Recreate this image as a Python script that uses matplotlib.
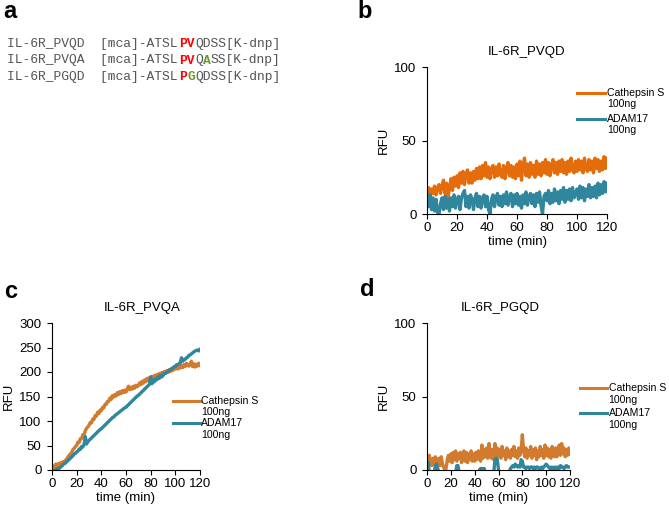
"""
Cleavage of IL-6R derived FRET peptides by Cathepsin S and ADAM17.
"""

import matplotlib

matplotlib.use("Agg")
import matplotlib.pyplot as plt

plt.rcParams["font.family"] = ["Liberation Sans", "DejaVu Sans"]

# time points (min)
time_min = list(range(0, 121))

# panel b: IL-6R_PVQD
pvqd_cathepsin = [
    13, 18, 12, 17, 14, 19, 13, 18, 20, 14,
    19, 23, 14, 21, 11, 18, 24, 16, 25, 19,
    26, 18, 28, 21, 29, 20, 27, 30, 21, 28,
    21, 29, 23, 31, 24, 32, 24, 33, 26, 35,
    25, 32, 24, 31, 33, 25, 32, 26, 34, 27,
    25, 33, 24, 31, 35, 26, 33, 25, 32, 24,
    34, 26, 36, 23, 33, 38, 26, 34, 25, 35,
    27, 33, 25, 36, 27, 34, 26, 35, 28, 37,
    27, 35, 26, 33, 37, 28, 35, 27, 36, 29,
    37, 28, 35, 27, 36, 29, 38, 30, 28, 36,
    29, 37, 30, 36, 28, 38, 31, 29, 37, 30,
    36, 28, 38, 31, 37, 29, 36, 30, 39, 31,
    38,
]
pvqd_adam17 = [
    12, 5, 13, 3, 11, 2, 10, 1, 0, 7,
    11, 3, 12, 4, 10, 2, 11, 5, 13, 4,
    10, 12, 3, 11, 14, 16, 5, 12, 4, 13,
    10, 3, 11, 14, 5, 12, 4, 11, 13, 5,
    12, 3, 0, 10, 13, 5, 11, 14, 6, 12,
    5, 13, 7, 15, 6, 12, 14, 5, 13, 7,
    14, 6, 12, 4, 13, 7, 15, 6, 12, 14,
    7, 13, 5, 14, 8, 15, 6, 0, 12, 14,
    9, 16, 7, 14, 8, 17, 9, 15, 7, 16,
    10, 18, 8, 16, 10, 17, 9, 18, 11, 14,
    17, 10, 19, 11, 18, 9, 17, 12, 20, 11,
    18, 12, 19, 11, 21, 13, 20, 14, 22, 15,
    21,
]

# panel c: IL-6R_PVQA
pvqa_cathepsin = [
    3, 8, 5, 12, 7, 13, 9, 15, 11, 17,
    16, 20, 23, 27, 30, 33, 36, 42, 44, 48,
    50, 57, 56, 64, 64, 72, 72, 80, 85, 88,
    91, 97, 96, 104, 103, 111, 110, 118, 115, 122,
    121, 128, 127, 134, 134, 140, 140, 147, 144, 152,
    149, 154, 151, 158, 154, 160, 156, 162, 158, 163,
    159, 165, 171, 164, 169, 165, 171, 167, 173, 170,
    172, 178, 174, 181, 177, 184, 180, 187, 183, 189,
    186, 191, 187, 193, 189, 195, 191, 197, 193, 199,
    196, 201, 197, 203, 199, 205, 201, 207, 203, 209,
    206, 210, 206, 212, 208, 214, 209, 215, 211, 218,
    215, 212, 216, 222, 211, 217, 210, 216, 212, 218,
    214,
]
pvqa_adam17 = [
    -3, -2, -1, 0, 2, 1, 4, 6, 8, 11,
    13, 14, 18, 19, 22, 24, 27, 29, 33, 34,
    37, 38, 43, 42, 48, 47, 52, 68, 53, 58,
    60, 63, 65, 68, 70, 73, 75, 78, 80, 83,
    84, 87, 89, 92, 94, 97, 99, 102, 104, 107,
    108, 111, 113, 115, 117, 119, 121, 123, 125, 127,
    128, 131, 133, 136, 138, 141, 143, 146, 148, 151,
    152, 155, 157, 160, 162, 165, 167, 170, 172, 175,
    190, 176, 182, 180, 186, 184, 190, 187, 193, 190,
    193, 197, 197, 199, 201, 203, 204, 207, 208, 211,
    211, 215, 215, 217, 219, 229, 222, 225, 226, 229,
    230, 234, 235, 237, 239, 241, 243, 244, 245, 243,
    246,
]

# panel d: IL-6R_PGQD
pgqd_cathepsin = [
    9, 4, 10, 5, 3, 8, 4, 9, 2, 7,
    8, 3, 9, 4, 2, 0, 1, 7, 10, 6,
    11, 5, 12, 7, 13, 6, 11, 8, 12, 5,
    10, 13, 6, 12, 5, 11, 7, 13, 6, 11,
    6, 12, 7, 13, 9, 6, 17, 8, 14, 9,
    15, 8, 18, 10, 8, 14, 7, 18, 10, 15,
    9, 14, 8, 16, 10, 13, 7, 15, 9, 13,
    8, 14, 10, 16, 9, 13, 8, 15, 10, 13,
    24, 14, 9, 15, 8, 13, 10, 16, 8, 14,
    10, 15, 7, 13, 9, 16, 10, 14, 8, 17,
    10, 15, 9, 14, 8, 16, 11, 9, 15, 9,
    14, 17, 10, 18, 11, 15, 9, 14, 10, 15,
    11,
]
pgqd_adam17 = [
    6, 5, -2, -2, -2, -2, -2, 3, 4, 1,
    -2, -2, -2, -2, -2, -2, -2, -2, -2, -2,
    -2, -2, -2, -2, -2, 3, 3, -2, -2, -2,
    -2, -2, -2, -2, -2, -2, -2, -2, -2, -2,
    -2, -2, -2, -2, 0, 1, 1, 0, 1, -2,
    -2, -2, -2, -2, -2, -2, -2, 7, 8, 7,
    0, -2, -2, -2, -2, -2, -2, -2, -2, -2,
    1, 2, 3, 2, 4, 3, 2, 3, 2, 7,
    6, 2, 2, 1, 2, 2, 1, 2, 2, 1,
    2, 1, 2, 2, 1, -2, 2, 1, 2, 3,
    4, 3, 2, 1, 2, 1, 2, 1, 2, 1,
    2, 1, 3, 2, 2, 1, 2, 3, 2, 2,
    2,
]

x_ticks = [0, 20, 40, 60, 80, 100, 120]
TEAL = "#2f869d"
GRAY = "#555555"


def draw_panel(ax, title, title_x, cath, adam, cath_color, ymax, yticks, leg_x, leg_y):
    ax.plot(time_min, cath, color=cath_color, lw=2.4)
    ax.plot(time_min, adam, color=TEAL, lw=2.4)
    ax.set_xlim(0, 120)
    ax.set_ylim(0, ymax)
    ax.set_xticks(x_ticks)
    ax.set_yticks(yticks)
    ax.spines["top"].set_visible(False)
    ax.spines["right"].set_visible(False)
    for s in ("left", "bottom"):
        ax.spines[s].set_linewidth(0.8)
    ax.tick_params(axis="x", direction="out", length=3.5, width=0.8, pad=2, labelsize=9.5)
    ax.tick_params(axis="y", direction="out", length=3.5, width=0.8, pad=4, labelsize=9.5)
    ax.set_xlabel("time (min)", fontsize=9.5, labelpad=2)
    ax.set_ylabel("RFU", fontsize=9.5, labelpad=3)
    ax.text(title_x, 1.1, title, transform=ax.transAxes, ha="center", va="center", fontsize=9.5)

    # hand drawn legend, handle aligned with first label line
    x0, x1 = leg_x
    for color, label, y in ((cath_color, "Cathepsin S", leg_y[0]), (TEAL, "ADAM17", leg_y[1])):
        ax.plot([x0, x1], [y, y], color=color, lw=2.2, transform=ax.transAxes, clip_on=False)
        ax.text(x1 + 0.01, y, label, transform=ax.transAxes, fontsize=7.6, va="center", ha="left")
        ax.text(x1 + 0.01, y - 0.077, "100ng", transform=ax.transAxes, fontsize=7.6, va="center", ha="left")


fig = plt.figure(figsize=(6.69, 5.14), dpi=100)

# panel a: peptide sequences
cw = 0.6 * 9.4 * 100 / 72 / 669  # monospace character width in figure fraction
rows = [
    [("IL-6R_PVQD  [mca]-ATSL", GRAY, "normal"), ("PV", "red", "bold"), ("QDSS[K-dnp]", GRAY, "normal")],
    [("IL-6R_PVQA  [mca]-ATSL", GRAY, "normal"), ("PV", "red", "bold"), ("Q", GRAY, "normal"),
     ("A", "#6a9a2a", "bold"), ("SS[K-dnp]", GRAY, "normal")],
    [("IL-6R_PGQD  [mca]-ATSL", GRAY, "normal"), ("P", "red", "bold"), ("G", "#6a9a2a", "bold"),
     ("QDSS[K-dnp]", GRAY, "normal")],
]
row_y = [44, 60.5, 77]
for parts, y in zip(rows, row_y):
    n = 0
    for txt, color, weight in parts:
        fig.text(7 / 669 + n * cw, 1 - y / 514, txt, family="Liberation Mono", fontsize=9.4,
                 color=color, weight=weight, va="center", ha="left")
        n += len(txt)

ax_b = fig.add_axes([427 / 669, 1 - 214 / 514, 180 / 669, 147 / 514])
draw_panel(ax_b, "IL-6R_PVQD", 0.555, pvqd_cathepsin, pvqd_adam17, "#e46c0a", 100, [0, 50, 100],
           (0.833, 0.99), (0.823, 0.646))

ax_c = fig.add_axes([52 / 669, 1 - 470 / 514, 148 / 669, 147 / 514])
draw_panel(ax_c, "IL-6R_PVQA", 0.61, pvqa_cathepsin, pvqa_adam17, "#d27b2f", 300,
           [0, 50, 100, 150, 200, 250, 300], (0.818, 1.0), (0.471, 0.318))

ax_d = fig.add_axes([427 / 669, 1 - 470 / 514, 143 / 669, 147 / 514])
draw_panel(ax_d, "IL-6R_PGQD", 0.51, pgqd_cathepsin, pgqd_adam17, "#d27b2f", 100, [0, 50, 100],
           (1.07, 1.26), (0.556, 0.386))

for letter, x, y in (("a", 3, 12), ("b", 357, 12), ("c", 4, 291), ("d", 360, 289)):
    fig.text(x / 669, 1 - y / 514, letter, fontsize=17, weight="bold", va="center", ha="left")

fig.savefig("out.png", dpi=100)
